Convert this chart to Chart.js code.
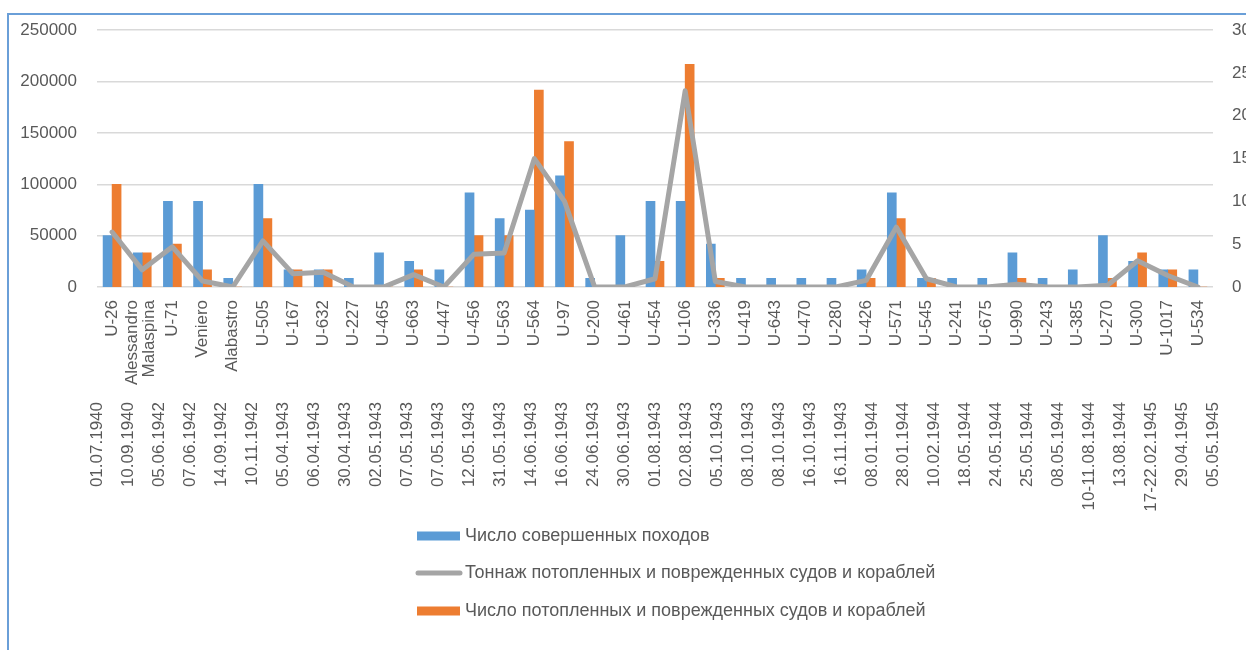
<!DOCTYPE html>
<html>
<head>
<meta charset="utf-8">
<script src="https://cdn.jsdelivr.net/npm/chart.js@4"></script>
<style>
  html, body { margin: 0; padding: 0; background: #fff; overflow: hidden; }
  #wrap { position: relative; width: 1246px; height: 650px; }
  #frame { position: absolute; left: 7px; top: 13px; width: 1300px; height: 700px;
           border: 2px solid #6a9fd8; box-sizing: border-box; pointer-events: none; }
</style>
</head>
<body>
<div id="wrap">
  <canvas id="chart" width="1246" height="650"></canvas>
  <div id="frame"></div>
</div>
<script>
// boats and dates of the attacks (two-level category axis)
const boats = ["U-26", ["Alessandro", "Malaspina"], "U-71", "Veniero", "Alabastro", "U-505", "U-167",
  "U-632", "U-227", "U-465", "U-663", "U-447", "U-456", "U-563", "U-564", "U-97", "U-200", "U-461",
  "U-454", "U-106", "U-336", "U-419", "U-643", "U-470", "U-280", "U-426", "U-571", "U-545", "U-241",
  "U-675", "U-990", "U-243", "U-385", "U-270", "U-300", "U-1017", "U-534"];

const dates = ["01.07.1940", "10.09.1940", "05.06.1942", "07.06.1942", "14.09.1942", "10.11.1942",
  "05.04.1943", "06.04.1943", "30.04.1943", "02.05.1943", "07.05.1943", "07.05.1943", "12.05.1943",
  "31.05.1943", "14.06.1943", "16.06.1943", "24.06.1943", "30.06.1943", "01.08.1943", "02.08.1943",
  "05.10.1943", "08.10.1943", "08.10.1943", "16.10.1943", "16.11.1943", "08.01.1944", "28.01.1944",
  "10.02.1944", "18.05.1944", "24.05.1944", "25.05.1944", "08.05.1944", "10-11.08.1944", "13.08.1944",
  "17-22.02.1945", "29.04.1945", "05.05.1945"];

// right axis
const patrols = [6, 4, 10, 10, 1, 12, 2, 2, 1, 4, 3, 2, 11, 8, 9, 13, 1, 6, 10, 10, 5, 1, 1, 1, 1,
  2, 11, 1, 1, 1, 4, 1, 2, 6, 3, 2, 2];
const shipsHit = [12, 4, 5, 2, 0, 8, 2, 2, 0, 0, 2, 0, 6, 6, 23, 17, 0, 0, 3, 26, 1, 0, 0, 0, 0,
  1, 8, 1, 0, 0, 1, 0, 0, 1, 4, 2, 0];

// left axis
const tonnage = [53500, 16700, 39100, 5800, 0, 44900, 12800, 14400, 0, 0, 12000, 0, 32000, 33000,
  125000, 83300, 0, 0, 8000, 191000, 5400, 0, 0, 0, 0, 6400, 58300, 8000, 0, 0, 2600, 0, 0, 1600,
  25600, 11200, 0];

const leftTicks = [0, 50000, 100000, 150000, 200000, 250000];
const rightTicks = [0, 5, 10, 15, 20, 25, 30];

const FONT = '"Liberation Sans", Arial, sans-serif';
const TEXT = "#595959";
Chart.defaults.font.family = FONT;
Chart.defaults.font.size = 17;
Chart.defaults.color = TEXT;

// legend order as in the picture: blue, grey line, orange
const legendOrder = [1, 0, 2];

const stackedLegend = {
  id: "stackedLegend",
  afterDraw(chart) {
    const ctx = chart.ctx;
    const ys = [536, 573, 611];
    ctx.save();
    ctx.font = "18px " + FONT;
    ctx.textBaseline = "middle";
    legendOrder.forEach((idx, i) => {
      const ds = chart.data.datasets[idx];
      const y = ys[i];
      if (ds.type === "line") {
        ctx.strokeStyle = ds.borderColor;
        ctx.lineWidth = 5;
        ctx.lineCap = "round";
        ctx.beginPath();
        ctx.moveTo(418, y);
        ctx.lineTo(460, y);
        ctx.stroke();
      } else {
        ctx.fillStyle = ds.backgroundColor;
        ctx.fillRect(417, y - 4.5, 43, 9);
      }
      ctx.fillStyle = TEXT;
      ctx.fillText(ds.label, 465, y);
    });
    ctx.restore();
  }
};

new Chart(document.getElementById("chart"), {
  data: {
    labels: boats,
    datasets: [
      {
        type: "line",
        label: "Тоннаж потопленных и поврежденных судов и кораблей",
        data: tonnage,
        yAxisID: "y",
        borderColor: "#a5a5a5",
        backgroundColor: "#a5a5a5",
        borderWidth: 5,
        pointRadius: 0,
        tension: 0,
        borderJoinStyle: "round",
        borderCapStyle: "round",
        order: 0
      },
      {
        type: "bar",
        label: "Число совершенных походов",
        data: patrols,
        yAxisID: "y1",
        backgroundColor: "#5b9bd5",
        barThickness: 9,
        order: 1
      },
      {
        type: "bar",
        label: "Число потопленных и поврежденных судов и кораблей",
        data: shipsHit,
        yAxisID: "y1",
        backgroundColor: "#ed7d31",
        barThickness: 9,
        order: 2
      }
    ]
  },
  options: {
    responsive: false,
    animation: false,
    events: [],
    layout: { padding: { top: 27, left: 0, right: 0, bottom: 136 } },
    plugins: { legend: { display: false }, tooltip: { enabled: false } },
    scales: {
      x: {
        type: "category",
        position: "bottom",
        grid: { display: false, drawTicks: false },
        border: { display: false },
        ticks: { autoSkip: false, minRotation: 90, maxRotation: 90, padding: 13,
                 font: { size: 17, lineHeight: 1.0 } },
        afterFit: (s) => { s.height = 115; },
        // centre the two-line label block on its category, like Excel does
        afterUpdate: (s) => {
          const base = s.getPixelForTick.bind(s);
          s.getPixelForTick = (i) => base(i) - (Array.isArray(boats[i]) ? (boats[i].length - 1) * 9.5 : 0);
        }
      },
      x2: {
        type: "category",
        position: "bottom",
        labels: dates,
        grid: { display: false, drawTicks: false },
        border: { display: false },
        ticks: { autoSkip: false, minRotation: 90, maxRotation: 90, padding: 0, font: { size: 17 } },
        afterFit: (s) => { s.height = 112; }
      },
      y: {
        position: "left",
        min: 0,
        max: 250000,
        afterBuildTicks: (s) => { s.ticks = leftTicks.map(v => ({ value: v })); },
        grid: { color: "#d9d9d9", lineWidth: 1.5, drawTicks: false },
        border: { display: false },
        ticks: { padding: 20, callback: (v) => String(v) },
        afterFit: (s) => { s.width = 97; }
      },
      y1: {
        position: "right",
        min: 0,
        max: 30,
        afterBuildTicks: (s) => { s.ticks = rightTicks.map(v => ({ value: v })); },
        grid: { display: false, drawTicks: false },
        border: { display: false },
        ticks: { padding: 19, callback: (v) => String(v) },
        afterFit: (s) => { s.width = 33; }
      }
    }
  },
  plugins: [stackedLegend]
});
</script>
</body>
</html>
